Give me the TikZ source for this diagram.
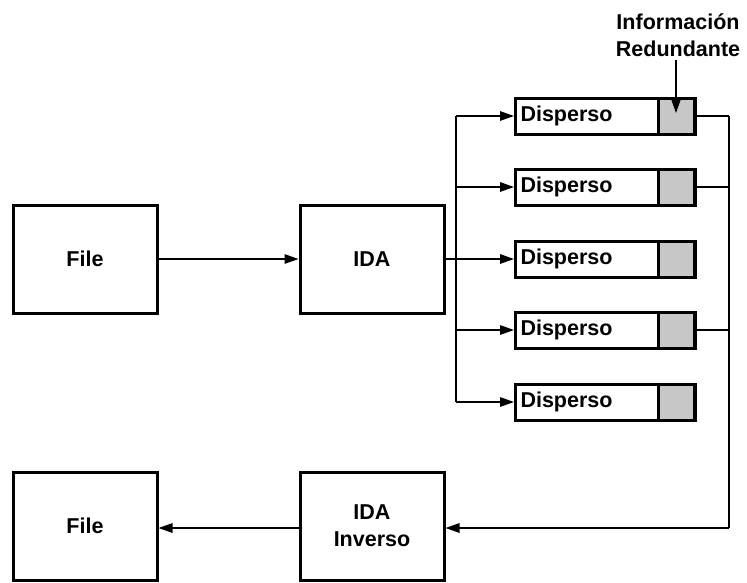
\documentclass[tikz,border=0pt]{standalone}
\usepackage{fontspec}
\setmainfont{Liberation Sans}
\usetikzlibrary{arrows.meta}
\begin{document}
\begin{tikzpicture}[x=1pt,y=-1pt,
  txt/.style={font=\fontsize{21.5}{27}\selectfont\bfseries},
  lbl/.style={txt,align=center},
  bigbox/.style={txt,draw,line width=3pt,minimum width=144pt,minimum height=108pt,
    inner sep=0pt,align=center},
  dbox/.style={txt,draw,line width=3pt,text width=170pt,inner xsep=5pt,inner ysep=0pt,
    minimum height=36pt,align=left,anchor=west},
  gbox/.style={draw,line width=3pt,fill=black!22,minimum width=36pt,minimum height=36pt,
    inner sep=0pt},
  wire/.style={line width=1.4pt},
  arr/.style={wire,-{Triangle[length=14pt,width=9.5pt]}}
]
\useasboundingbox (0,0) rectangle (747,582);

% main blocks
\node[bigbox] (file) at (85,259) {File};
\node[bigbox] (ida) at (372,259) {IDA};
\node[bigbox] (inv) at (372,526) {IDA\\Inverso};
\node[bigbox] (out) at (85,526) {File};

% dispersed pieces, each with its redundant cell
\foreach \i/\y in {1/116,2/187,3/259,4/330,5/402}{
  \node[dbox] (d\i) at (514,\y) {Disperso};
  \node[gbox] (g\i) at (676,\y) {};
  \coordinate (bl\i) at (456,\y);
  \coordinate (br\i) at (729,\y);
}
\coordinate (brb) at (729,528);

% redundant information label (anchored on the baseline of its last line)
\node[lbl,anchor=base] (info) at (678,56) {Información\\Redundante};
\coordinate (tip) at (676,113);
\draw[arr] (info.south -| tip) -- (tip);

% forward path
\draw[arr] (file) -- (ida);
\draw[wire] (bl1) -- (bl5);
\draw[arr] (ida) -- (d3);
\foreach \i in {1,2,4,5}{\draw[arr] (bl\i) -- (d\i.west);}

% collection path
\foreach \i in {1,2,4}{\draw[wire] (g\i.east) -- (br\i);}
\draw[wire] (br1) -- (brb);
\draw[arr] (brb) -- (inv.east |- brb);
\draw[arr] (inv.west |- brb) -- (out.east |- brb);
\end{tikzpicture}
\end{document}
